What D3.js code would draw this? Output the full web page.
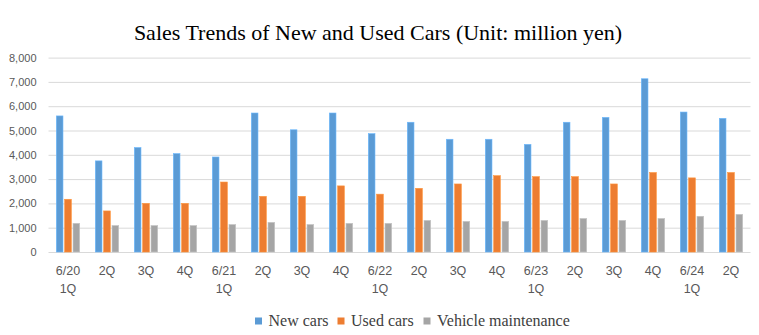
<!DOCTYPE html>
<html>
<head>
<meta charset="utf-8">
<script src="https://cdn.jsdelivr.net/npm/d3@7"></script>
<style>
  body { margin: 0; background: #fff; }
  #chart { width: 759px; height: 335px; }
</style>
</head>
<body>
<div id="chart"></div>
<script>
// quarterly sales, million yen
const quarters = ["6/20|1Q", "2Q", "3Q", "4Q", "6/21|1Q", "2Q", "3Q", "4Q", "6/22|1Q", "2Q", "3Q", "4Q", "6/23|1Q", "2Q", "3Q", "4Q", "6/24|1Q", "2Q"];
const newCars = [5600, 3750, 4300, 4050, 3910, 5720, 5030, 5720, 4870, 5340, 4640, 4640, 4430, 5340, 5540, 7130, 5760, 5500];
const usedCars = [2170, 1690, 2000, 2000, 2880, 2290, 2290, 2720, 2380, 2620, 2800, 3140, 3100, 3100, 2800, 3270, 3050, 3270];
const maintenance = [1180, 1090, 1090, 1090, 1130, 1220, 1130, 1180, 1180, 1300, 1260, 1260, 1300, 1380, 1300, 1380, 1470, 1550];
const seriesNames = ["New cars", "Used cars", "Vehicle maintenance"];
const yTicks = [0, 1000, 2000, 3000, 4000, 5000, 6000, 7000, 8000];

const colors = ["#5B9BD5", "#ED7D31", "#A5A5A5"];
const seriesValues = [newCars, usedCars, maintenance];

const W = 759, H = 335;
const margin = { top: 57.6, right: 8.5, bottom: 83, left: 48.5 };
const width = W - margin.left - margin.right;
const height = H - margin.top - margin.bottom;

const svg = d3.select("#chart").append("svg")
  .attr("width", W)
  .attr("height", H);

svg.append("text")
  .attr("x", 378)
  .attr("y", 40)
  .attr("text-anchor", "middle")
  .style("font-family", "'Liberation Serif', 'Times New Roman', serif")
  .style("font-size", "22px")
  .style("fill", "#000")
  .text("Sales Trends of New and Used Cars (Unit: million yen)");

const g = svg.append("g")
  .attr("transform", `translate(${margin.left},${margin.top})`);

const x = d3.scaleBand()
  .domain(d3.range(quarters.length))
  .range([0, width])
  .padding(0);

const xs = d3.scaleBand()
  .domain(d3.range(seriesNames.length))
  .range([-11.7, 11.7])
  .paddingInner(0.2);

const y = d3.scaleLinear()
  .domain([0, 8000])
  .range([height, 0]);

// y axis with gridlines
const yAxis = g.append("g")
  .call(d3.axisLeft(y)
    .tickValues(yTicks)
    .tickSizeInner(-width)
    .tickSizeOuter(0)
    .tickPadding(12)
    .tickFormat(d3.format(",")));
yAxis.select(".domain").remove();
yAxis.selectAll(".tick line")
  .attr("stroke", "#D9D9D9")
  .attr("stroke-width", 1);
yAxis.selectAll(".tick text")
  .style("font-family", "'Liberation Sans', Arial, sans-serif")
  .style("font-size", "11px")
  .style("fill", "#595959");

// bars
const groups = g.selectAll(".quarter")
  .data(quarters.map((q, i) => i))
  .enter().append("g")
  .attr("class", "quarter")
  .attr("transform", i => `translate(${x(i) + x.bandwidth() / 2},0)`);

groups.selectAll("rect")
  .data(i => seriesValues.map((vals, s) => ({ s, v: vals[i] })))
  .enter().append("rect")
  .attr("x", d => xs(d.s))
  .attr("width", xs.bandwidth())
  .attr("y", d => y(d.v))
  .attr("height", d => height - y(d.v))
  .attr("fill", d => colors[d.s])
  .attr("stroke", d => d3.color(colors[d.s]).brighter(0.5))
  .attr("stroke-width", 0.6);

// x axis labels on two lines
const xAxis = g.append("g")
  .attr("transform", `translate(0,${height})`)
  .call(d3.axisBottom(x).tickSize(0).tickPadding(0).tickFormat(() => ""));
xAxis.select(".domain").remove();
xAxis.selectAll(".tick text").each(function (i) {
  const parts = quarters[i].split("|");
  const t = d3.select(this)
    .attr("y", 0)
    .attr("dy", null)
    .style("font-family", "'Liberation Sans', Arial, sans-serif")
    .style("font-size", "12.5px")
    .style("fill", "#595959");
  parts.forEach((p, k) => {
    t.append("tspan")
      .attr("x", 0)
      .attr("y", 23 + k * 18)
      .text(p);
  });
});

// legend
const legendX = [255, 337.5, 423.5];
const legend = svg.append("g");
seriesNames.forEach((name, s) => {
  legend.append("rect")
    .attr("x", legendX[s])
    .attr("y", 317.5)
    .attr("width", 7)
    .attr("height", 7)
    .attr("fill", colors[s]);
  legend.append("text")
    .attr("x", legendX[s] + 13.5)
    .attr("y", 326)
    .style("font-family", "'Liberation Serif', 'Times New Roman', serif")
    .style("font-size", "16px")
    .style("fill", "#404040")
    .text(name);
});
</script>
</body>
</html>
